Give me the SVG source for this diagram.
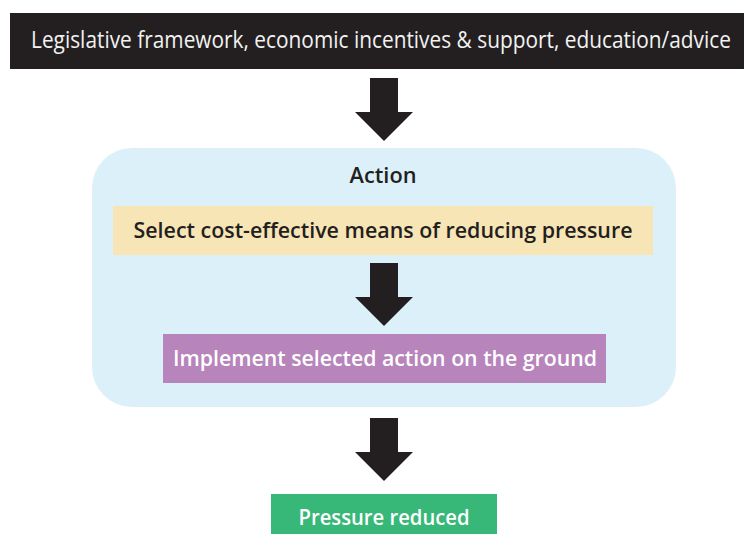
<svg xmlns="http://www.w3.org/2000/svg" width="744" height="534" viewBox="0 0 744 534">
<style>
.t{font-family:"Open Sans","Liberation Sans",sans-serif;text-anchor:middle}
.b{font-weight:600}
.arrow{fill:#231f20}
</style>
<defs>
<path id="arr" d="M-14,0 H14 V34 H29 L0,63 L-29,34 H-14 Z"/>
</defs>
<rect width="744" height="534" fill="#ffffff"/>
<g id="top">
<rect x="10" y="13" width="734" height="56" fill="#231f20"/>
<text class="t" x="381" y="48" font-size="23" fill="#f2f2f2" textLength="700" lengthAdjust="spacingAndGlyphs">Legislative framework, economic incentives &amp; support, education/advice</text>
</g>
<g id="action">
<rect x="92" y="148" width="584" height="259" rx="40" fill="#dcf0fa"/>
<text class="t b" x="383" y="183" font-size="22" fill="#231f20" textLength="67" lengthAdjust="spacingAndGlyphs">Action</text>
</g>
<g id="select">
<rect x="113" y="206" width="540" height="49" fill="#f8e5b5"/>
<text class="t b" x="383" y="238" font-size="22" fill="#231f20" textLength="499" lengthAdjust="spacingAndGlyphs">Select cost-effective means of reducing pressure</text>
</g>
<g id="implement">
<rect x="163" y="334" width="443" height="49" fill="#b784bb"/>
<text class="t b" x="385" y="366" font-size="22" fill="#ffffff" textLength="424" lengthAdjust="spacingAndGlyphs">Implement selected action on the ground</text>
</g>
<g id="reduced">
<rect x="271" y="494" width="226" height="40" fill="#37b878"/>
<text class="t b" x="384" y="525" font-size="22" fill="#ffffff" textLength="171" lengthAdjust="spacingAndGlyphs">Pressure reduced</text>
</g>
<g id="connectors" class="arrow">
<use href="#arr" x="384" y="78"/>
<use href="#arr" x="384" y="263"/>
<use href="#arr" x="384" y="418"/>
</g>
</svg>
